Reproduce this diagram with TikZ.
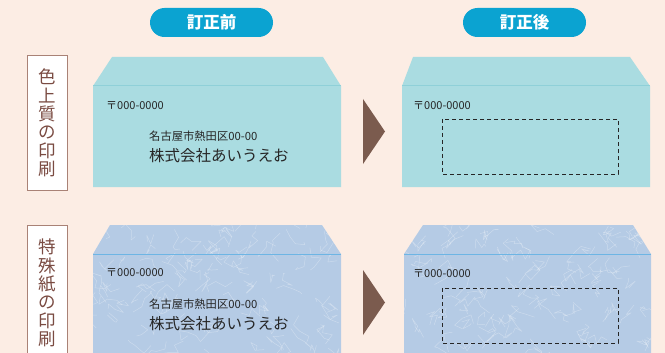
\documentclass[tikz,border=0pt]{standalone}
\usepackage{fontspec}
\setmainfont{Noto Sans CJK JP}
\newfontfamily\cjk{Noto Sans CJK JP}
\usetikzlibrary{positioning}
\definecolor{bgpink}{HTML}{FCEDE4}
\definecolor{pillblue}{HTML}{0BA3D1}
\definecolor{tagline}{HTML}{A98276}
\definecolor{tagbrown}{HTML}{7A4B42}
\definecolor{envcyan}{HTML}{AADCE1}
\definecolor{foldcyan}{HTML}{8FD0D8}
\definecolor{marble}{HTML}{B5CBE5}
\definecolor{foldblue}{HTML}{6DB5E4}
\definecolor{arrowbrown}{HTML}{7B5B4E}
\definecolor{inkgray}{HTML}{262626}
\tikzstyle{pill} = [rectangle, rounded corners=14.5pt, minimum width=123pt, minimum height=29pt, fill=pillblue, text=white, inner sep=0pt, font=\cjk\bfseries\fontsize{16.5}{16.5}\selectfont]
\tikzstyle{tag} = [rectangle, draw=tagline, line width=1pt, fill=white, minimum width=40pt, minimum height=134pt]
\tikzstyle{tagtext} = [align=center, text=tagbrown, inner sep=0pt, font=\cjk\fontsize{17.5}{18.3}\selectfont]
\tikzstyle{zip} = [anchor=west, inner sep=0pt, text=inkgray, font=\cjk\fontsize{11}{11}\selectfont]
\tikzstyle{addr} = [anchor=west, inner sep=0pt, text=inkgray, font=\cjk\fontsize{11.3}{11.3}\selectfont]
\tikzstyle{firm} = [anchor=west, inner sep=0pt, text=inkgray, font=\cjk\fontsize{15.5}{15.5}\selectfont]
\tikzstyle{plain} = [fill=envcyan]
\tikzstyle{paper} = [fill=marble]
\tikzstyle{vein} = [draw=white, opacity=0.3, line width=0.5pt, line join=round]
\tikzstyle{pointer} = [fill=arrowbrown]
\tikzstyle{blank} = [draw=inkgray, line width=0.9pt, dash pattern=on 4pt off 3pt]
% random light lines for the special paper
\newcommand\marblelines[2]{%
  \foreach \i in {1,...,110} {
    \pgfmathsetmacro\vx{#1+#2*rnd}
    \pgfmathsetmacro\vy{222+135*rnd}
    \draw[vein] (\vx,\vy) -- ++({10*rand},{10*rand}) -- ++({10*rand},{10*rand}) -- ++({10*rand},{10*rand}) -- ++({10*rand},{10*rand});
  }}

\begin{document}
\begin{tikzpicture}[x=1pt, y=-1pt]

\clip (0,0) rectangle (665,353);
\fill[bgpink] (0,0) rectangle (665,353);

\node (before) [pill] at (211.5,22.5) {訂正前};
\node (after) [pill] at (524.5,22.5) {訂正後};

% colour paper
\node (tagcolor) [tag] at (47,123) {};
\node (tagcolortext) [tagtext] at (tagcolor) {色\\上\\質\\の\\印\\刷};

\path[plain] (93,187) -- (93,86) -- (112,57) -- (323,57) -- (341,86) -- (341,187) -- cycle;
\draw[foldcyan, line width=1pt] (93,86) -- (341,86);
\node (zipa) [zip] at (106,106) {〒000-0000};
\node (addra) [addr] at (149,136) {名古屋市熱田区00-00};
\node (firma) [firm] at (149,156) {株式会社あいうえお};

\path[pointer] (363,99) -- (385,131.5) -- (363,164) -- cycle;

\path[plain] (402,187) -- (402,86) -- (413,57) -- (630,57) -- (650,86) -- (650,187) -- cycle;
\draw[foldcyan, line width=1pt] (402,86) -- (650,86);
\node (zipb) [zip] at (413,106) {〒000-0000};
\draw[blank] (442,119) rectangle (618,174);

% special paper
\node (tagspecial) [tag, minimum height=140pt] at (47,295) {};
\node (tagspecialtext) [tagtext] at (47,293) {特\\殊\\紙\\の\\印\\刷};

\pgfmathsetseed{11}
\begin{scope}
\clip (93,360) -- (93,254) -- (110,225) -- (322,225) -- (341,254) -- (341,360) -- cycle;
\path[paper] (0,0) rectangle (665,360);
\marblelines{93}{248}
\end{scope}
\draw[foldblue, line width=1pt] (93,254) -- (341,254);
\node (zipc) [zip] at (106,273) {〒000-0000};
\node (addrc) [addr] at (149,304) {名古屋市熱田区00-00};
\node (firmc) [firm] at (149,324) {株式会社あいうえお};

\path[pointer] (363,270) -- (385,302.5) -- (363,335) -- cycle;

\begin{scope}
\clip (404,360) -- (404,254) -- (423,225) -- (633,225) -- (651,254) -- (651,360) -- cycle;
\path[paper] (0,0) rectangle (665,360);
\marblelines{404}{247}
\end{scope}
\draw[foldblue, line width=1pt] (404,254) -- (651,254);
\node (zipd) [zip] at (413,274) {〒000-0000};
\draw[blank] (442,288) rectangle (618,343);

\end{tikzpicture}
\end{document}
